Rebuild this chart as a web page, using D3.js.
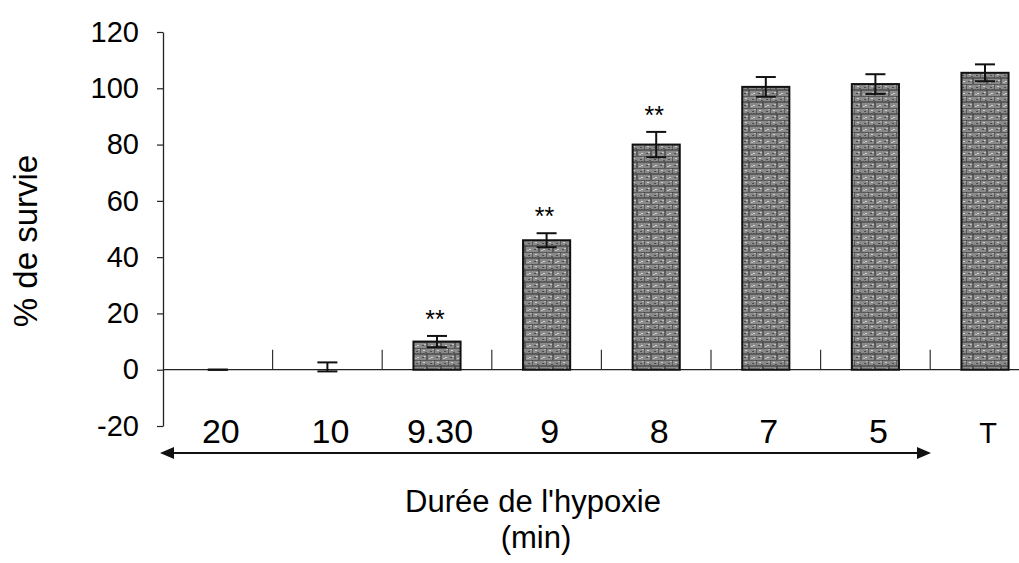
<!DOCTYPE html>
<html>
<head>
<meta charset="utf-8">
<script src="https://cdn.jsdelivr.net/npm/d3@7"></script>
<style>
  html, body { margin: 0; padding: 0; background: #fff; }
  svg { display: block; font-family: "Liberation Sans", Arial, sans-serif; }
</style>
</head>
<body>
<svg id="chart" width="1019" height="563"></svg>
<script>
// ---- data ----
const categories = ["20", "10", "9.30", "9", "8", "7", "5", "T"];
const survival   = [0, 1, 10, 46, 80, 100.5, 101.5, 105.5];
const errors     = [0, 1.6, 2, 2.5, 4.5, 3.5, 3.5, 3];
const signif     = ["", "", "**", "**", "**", "", "", ""];
const yTicks     = [-20, 0, 20, 40, 60, 80, 100, 120];
const yTitle = "% de survie";
const xTitle = ["Durée de l'hypoxie", "(min)"];

// ---- layout ----
const svg = d3.select("#chart");
const x0 = 163, step = 109.6;
const x = d3.scaleBand().domain(categories)
  .range([x0, x0 + step * categories.length])
  .paddingInner(0.57).paddingOuter(0.285);
const y = d3.scaleLinear().domain([-20, 120]).range([426, 32]);

// texture pattern
const defs = svg.append("defs");
const pat = defs.append("pattern").attr("id", "tex")
  .attr("patternUnits", "userSpaceOnUse").attr("width", 14).attr("height", 12);
pat.append("rect").attr("width", 14).attr("height", 12).attr("fill", "#8a8a8a");
const pl = [[0,0,14,0],[0,0,0,6],[0,6,14,6],[7,6,7,12]];
pl.forEach(l => pat.append("line").attr("x1", l[0]).attr("y1", l[1]).attr("x2", l[2]).attr("y2", l[3])
  .attr("stroke", "#3c3c3c").attr("stroke-width", 1.2));
[[3,2,"#cfcfcf"],[10,3,"#4a4a4a"],[2,9,"#4a4a4a"],[11,9,"#d4d4d4"],[5,4,"#555"],[9,10,"#c0c0c0"],[12,1,"#b0b0b0"],[4,8,"#c4c4c4"]]
  .forEach(s => pat.append("rect").attr("x", s[0]).attr("y", s[1]).attr("width", 2).attr("height", 1).attr("fill", s[2]));

// y axis
const yAxis = d3.axisLeft(y).tickValues(yTicks).tickSize(6).tickSizeOuter(0).tickPadding(18)
  .tickFormat(d => String(d));
const gy = svg.append("g").attr("transform", `translate(${x0},0)`).call(yAxis);
gy.select(".domain").attr("stroke", "#222").attr("stroke-width", 1.3);
gy.selectAll(".tick line").attr("stroke", "#222").attr("stroke-width", 1.2);
gy.selectAll(".tick text").attr("font-size", 29).attr("fill", "#000")
  .attr("font-family", "Liberation Sans, Arial, sans-serif");

// zero line
svg.append("line").attr("x1", x0).attr("x2", 1019).attr("y1", y(0)).attr("y2", y(0))
  .attr("stroke", "#222").attr("stroke-width", 1.3);

// x tick marks at band boundaries (upward)
d3.range(1, categories.length).forEach(i => {
  const bx = x(categories[i]) - x.step() * x.paddingInner() / 2;
  svg.append("line").attr("x1", bx).attr("x2", bx).attr("y1", y(0)).attr("y2", y(0) - 20)
    .attr("stroke", "#333").attr("stroke-width", 1.2);
});

// bars
svg.selectAll("rect.bar").data(categories.filter((c, i) => survival[i] > 2))
  .enter().append("rect").attr("class", "bar")
  .attr("x", d => x(d)).attr("width", x.bandwidth())
  .attr("y", d => y(survival[categories.indexOf(d)]))
  .attr("height", d => y(0) - y(survival[categories.indexOf(d)]))
  .attr("fill", "url(#tex)").attr("stroke", "#111").attr("stroke-width", 2);

// error bars
const capW = 20;
categories.forEach((c, i) => {
  const cx = x(c) + x.bandwidth() / 2;
  const top = y(survival[i] + errors[i]), bot = y(survival[i] - errors[i]);
  const g = svg.append("g").attr("stroke", "#111").attr("stroke-width", 2);
  g.append("line").attr("x1", cx).attr("x2", cx).attr("y1", top).attr("y2", bot);
  g.append("line").attr("x1", cx - capW / 2).attr("x2", cx + capW / 2).attr("y1", top).attr("y2", top);
  g.append("line").attr("x1", cx - capW / 2).attr("x2", cx + capW / 2).attr("y1", bot).attr("y2", bot);
  if (signif[i]) {
    svg.append("text").attr("x", cx - 2).attr("y", top - 8).attr("text-anchor", "middle")
      .attr("font-size", 25).attr("fill", "#000").text(signif[i]);
  }
});

// category labels
categories.forEach((c, i) => {
  svg.append("text").attr("x", x(c) + x.bandwidth() / 2 + 3).attr("y", 443)
    .attr("text-anchor", "middle").attr("font-size", c === "T" ? 29 : 34).attr("fill", "#000").text(c);
});

// double-headed arrow
const ay = 453, ax1 = 160, ax2 = 931;
svg.append("line").attr("x1", ax1 + 10).attr("x2", ax2 - 10).attr("y1", ay).attr("y2", ay)
  .attr("stroke", "#111").attr("stroke-width", 2);
svg.append("path").attr("d", `M${ax1},${ay} L${ax1 + 14},${ay - 6} L${ax1 + 14},${ay + 6} Z`).attr("fill", "#111");
svg.append("path").attr("d", `M${ax2},${ay} L${ax2 - 14},${ay - 6} L${ax2 - 14},${ay + 6} Z`).attr("fill", "#111");

// titles
svg.append("text").attr("transform", "translate(37,241) rotate(-90)").attr("text-anchor", "middle")
  .attr("font-size", 33).attr("fill", "#000").text(yTitle);
svg.append("text").attr("x", 533).attr("y", 512).attr("text-anchor", "middle")
  .attr("font-size", 31).attr("fill", "#000").text(xTitle[0]);
svg.append("text").attr("x", 536).attr("y", 548).attr("text-anchor", "middle")
  .attr("font-size", 31).attr("fill", "#000").text(xTitle[1]);
</script>
</body>
</html>
